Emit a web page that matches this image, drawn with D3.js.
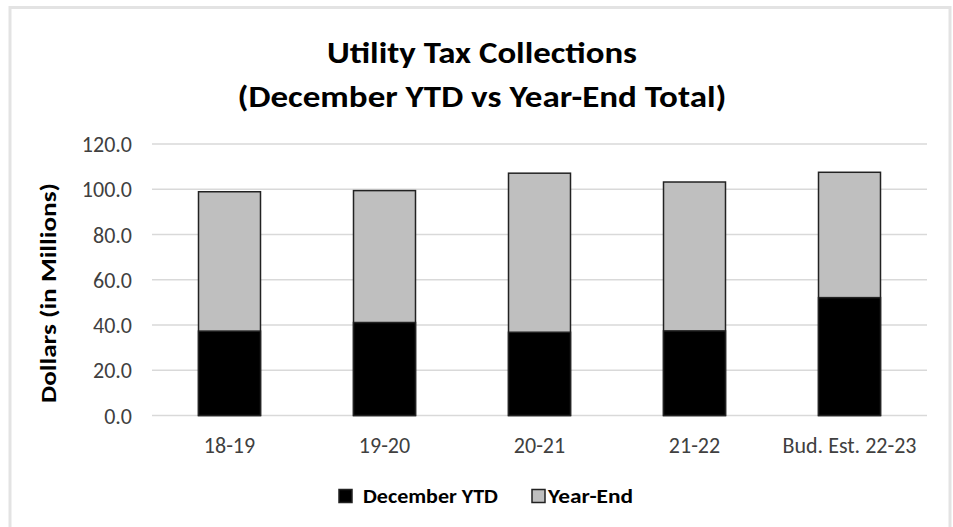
<!DOCTYPE html>
<html>
<head>
<meta charset="utf-8">
<script src="https://cdn.jsdelivr.net/npm/d3@7"></script>
<style>
  html, body { margin: 0; padding: 0; background: #fff; }
  svg { display: block; }
  text { font-family: Carlito, Calibri, Lato, "Open Sans", sans-serif; }
</style>
</head>
<body>
<svg id="chart" width="953" height="527"></svg>
<script>
const categories = ["18-19", "19-20", "20-21", "21-22", "Bud. Est. 22-23"];
const decemberYTD = [37.3, 41.1, 36.8, 37.4, 52.1];
const yearEnd = [98.9, 99.4, 107.1, 103.2, 107.5];
const yTicks = [0, 20, 40, 60, 80, 100, 120];
const seriesNames = ["December YTD", "Year-End"];
const seriesColors = ["#000000", "#bfbfbf"];
const titleLines = ["Utility Tax Collections", "(December YTD vs Year-End Total)"];
const yAxisTitle = "Dollars (in Millions)";

const svg = d3.select("#chart");

// frame
svg.append("rect")
  .attr("x", 10).attr("y", 7.5).attr("width", 940).attr("height", 530)
  .attr("fill", "#fff").attr("stroke", "#e3e3e3").attr("stroke-width", 3);

const x = d3.scaleBand().domain(categories).range([152, 927])
  .paddingInner(0.6).paddingOuter(0.3);
const y = d3.scaleLinear().domain([0, 120]).range([415.5, 144]);

// gridlines
svg.append("g").selectAll("line").data(yTicks).join("line")
  .attr("x1", 152).attr("x2", 927)
  .attr("y1", d => y(d)).attr("y2", d => y(d))
  .attr("stroke", "#d9d9d9").attr("stroke-width", 1.5);

// y axis labels
const yAxis = d3.axisLeft(y).tickValues(yTicks).tickFormat(d3.format(".1f")).tickSize(0).tickPadding(0);
const gy = svg.append("g").attr("transform", "translate(132,0)").call(yAxis);
gy.select(".domain").remove();
gy.selectAll("text").attr("font-size", 22).attr("fill", "#404040").attr("dy", "0.35em");

// x axis labels
const xAxis = d3.axisBottom(x).tickSize(0).tickPadding(0);
const gx = svg.append("g").attr("transform", "translate(0,437)").call(xAxis);
gx.select(".domain").remove();
gx.selectAll("text").attr("font-size", 22).attr("fill", "#404040").attr("dy", "0.71em");

// bars: Year-End total behind, December YTD in front
const bars = svg.append("g");
bars.selectAll("rect.ye").data(categories).join("rect").attr("class", "ye")
  .attr("x", d => x(d)).attr("width", x.bandwidth())
  .attr("y", (d, i) => y(yearEnd[i]))
  .attr("height", (d, i) => y(0) - y(yearEnd[i]))
  .attr("fill", seriesColors[1]).attr("stroke", "#222").attr("stroke-width", 1.5);
bars.selectAll("rect.ytd").data(categories).join("rect").attr("class", "ytd")
  .attr("x", d => x(d)).attr("width", x.bandwidth())
  .attr("y", (d, i) => y(decemberYTD[i]))
  .attr("height", (d, i) => y(0) - y(decemberYTD[i]))
  .attr("fill", seriesColors[0]).attr("stroke", "#222").attr("stroke-width", 1.5);

// title
const titleWidths = [310, 489];
svg.append("g").selectAll("text").data(titleLines).join("text")
  .attr("x", 482).attr("y", (d, i) => 63 + i * 44)
  .attr("text-anchor", "middle").attr("font-size", 31).attr("font-weight", "bold")
  .attr("fill", "#000")
  .attr("textLength", (d, i) => titleWidths[i]).attr("lengthAdjust", "spacingAndGlyphs")
  .text(d => d);

// y axis title
svg.append("text")
  .attr("transform", "translate(56,293) rotate(-90)")
  .attr("text-anchor", "middle").attr("font-size", 22).attr("font-weight", "bold")
  .attr("fill", "#000")
  .attr("textLength", 220).attr("lengthAdjust", "spacingAndGlyphs")
  .text(yAxisTitle);

// legend
const legendX = [339, 532];
const legendTextX = [363, 548];
const legendTextW = [135, 85];
const lg = svg.append("g");
lg.selectAll("rect").data(seriesNames).join("rect")
  .attr("x", (d, i) => legendX[i]).attr("y", 489.5)
  .attr("width", 13).attr("height", 13)
  .attr("fill", (d, i) => seriesColors[i]).attr("stroke", "#222").attr("stroke-width", 1.5);
lg.selectAll("text").data(seriesNames).join("text")
  .attr("x", (d, i) => legendTextX[i]).attr("y", 503)
  .attr("font-size", 21).attr("font-weight", "bold").attr("fill", "#000")
  .attr("textLength", (d, i) => legendTextW[i]).attr("lengthAdjust", "spacingAndGlyphs")
  .text(d => d);
</script>
</body>
</html>
